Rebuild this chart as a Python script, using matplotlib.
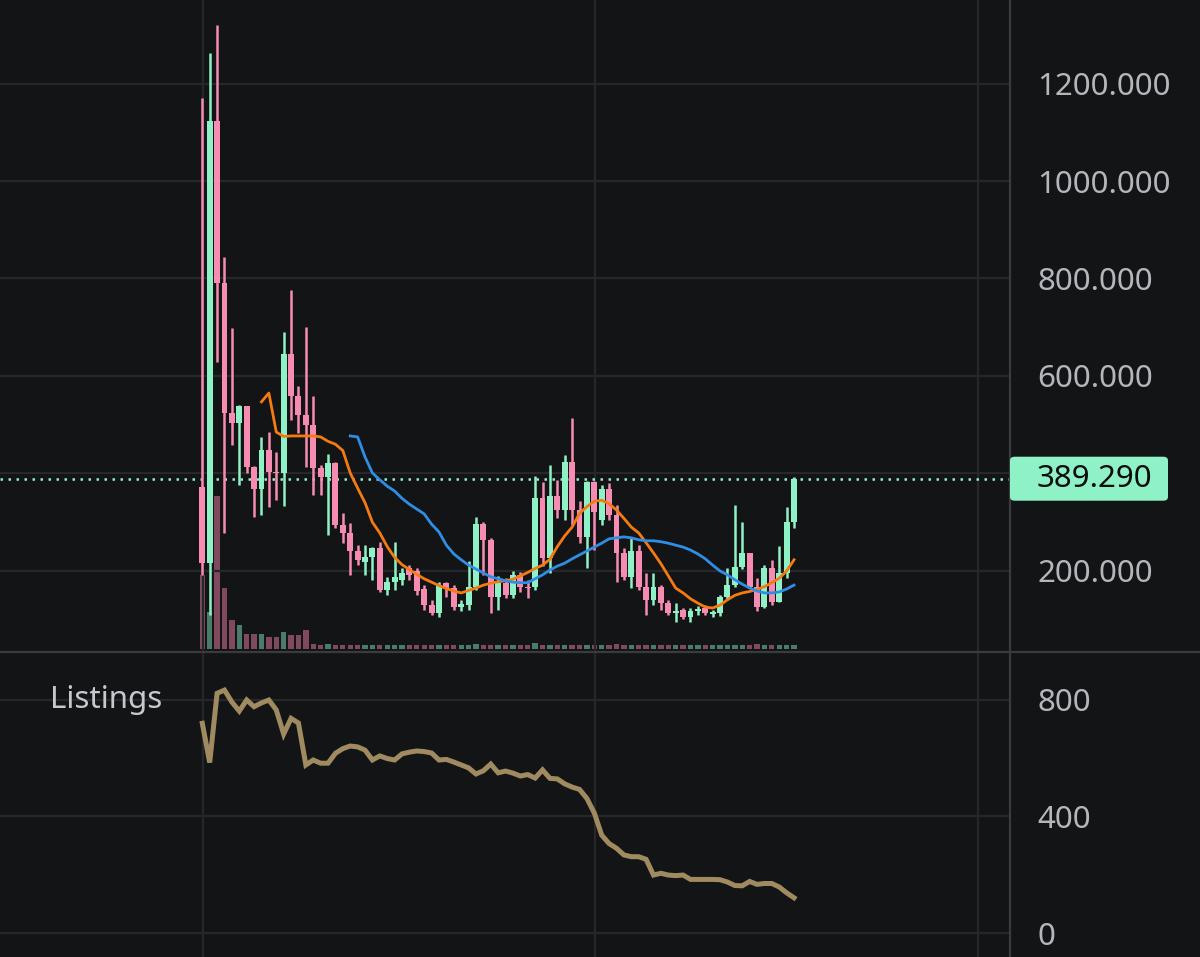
import numpy as np
import matplotlib
matplotlib.use("Agg")
import matplotlib.pyplot as plt
from matplotlib.lines import Line2D
from matplotlib.patches import FancyBboxPatch

plt.rcParams['font.family'] = ['Noto Sans', 'DejaVu Sans']

# daily candles (open, high, low, close)
opens = [373, 216, 1124, 790, 524, 504, 539, 414, 368, 448, 404, 401, 646, 558, 520, 500, 411, 393, 422, 294,
         277, 240, 219, 229, 248, 161, 178, 182, 206, 199, 163, 130, 113, 175, 165, 126, 130, 168, 296, 264,
         147, 176, 151, 192, 168, 168, 349, 226, 354, 325, 424, 325, 270, 383, 305, 368, 315, 236, 188, 240,
         168, 141, 168, 134, 113, 119, 105, 117, 124, 112, 113, 147, 171, 209, 236, 168, 127, 206, 137, 195, 301]
highs = [1170, 1263, 1320, 845, 699, 541, 539, 415, 475, 486, 445, 691, 776, 580, 700, 558, 417, 440, 424, 319,
         299, 253, 253, 250, 259, 188, 260, 206, 212, 206, 171, 141, 178, 178, 171, 141, 221, 311, 300, 268,
         190, 186, 199, 198, 182, 395, 383, 417, 387, 438, 513, 344, 385, 385, 376, 381, 335, 247, 268, 253,
         196, 196, 171, 140, 134, 124, 124, 128, 130, 120, 151, 206, 335, 301, 237, 186, 212, 223, 251, 332, 392]
lows = [192, 110, 629, 278, 459, 376, 400, 311, 315, 331, 346, 333, 510, 483, 414, 356, 356, 274, 288, 257,
        192, 212, 192, 182, 157, 151, 161, 171, 181, 151, 120, 110, 106, 147, 120, 118, 120, 161, 192, 113,
        120, 145, 145, 157, 145, 161, 210, 195, 308, 305, 294, 257, 206, 243, 294, 305, 178, 181, 165, 161,
        110, 130, 120, 110, 96, 101, 96, 110, 110, 106, 108, 141, 167, 204, 165, 117, 124, 130, 136, 186, 288]
closes = [216, 1124, 790, 524, 504, 539, 414, 368, 448, 404, 401, 646, 558, 520, 500, 411, 393, 422, 294, 277,
          240, 223, 229, 248, 161, 178, 188, 196, 192, 158, 130, 113, 171, 165, 126, 132, 168, 296, 264, 147,
          176, 151, 192, 168, 165, 349, 226, 354, 325, 424, 325, 270, 383, 322, 368, 315, 236, 188, 240, 168,
          141, 168, 134, 113, 117, 105, 117, 121, 113, 115, 147, 171, 209, 236, 168, 127, 206, 137, 195, 301, 389.29]
volumes = [75, 37, 155, 62, 29, 24, 15, 15, 15, 12, 12, 17, 14, 14, 19,
           5, 4, 5, 4, 4, 4, 4, 4, 4, 4, 4, 4, 4, 4, 4, 4, 4, 4, 4, 4,
           4, 4, 5, 4, 4, 4, 4, 4, 4, 4, 6, 4, 4, 4, 4, 4, 4, 4, 4, 4,
           4, 5, 4, 4, 4, 4, 4, 4, 4, 4, 4, 4, 4, 4, 4, 4, 4, 4, 4, 4,
           5, 4, 4, 4, 4, 4]
ma_fast = [547, 565, 485, 476, 477, 477, 477, 477, 475, 466, 460, 447, 401, 370, 340, 300, 278, 250, 228, 213,
           203, 193, 184, 177, 170, 164, 159, 155, 160, 165, 171, 175, 178, 180, 183, 190, 197, 205, 212, 224,
           250, 272, 290, 318, 332, 343, 345, 338, 325, 308, 290, 278, 258, 237, 215, 190, 165, 155, 143, 134,
           126, 124, 130, 141, 150, 155, 158, 162, 168, 176, 185, 200, 223]
ma_slow = [477, 475, 434, 401, 387, 374, 364, 349, 337, 327, 317, 296, 280, 253, 235, 223, 212, 204, 196, 188,
           184, 180, 177, 176, 176, 184, 192, 202, 210, 216, 225, 233, 241, 249, 257, 266, 268, 270, 268, 264,
           262, 262, 260, 257, 253, 249, 243, 235, 225, 212, 200, 192, 182, 173, 165, 159, 155, 155, 157, 163, 171]
listings = [720, 585, 823, 834, 793, 762, 800, 777, 790, 800, 766, 683, 737, 721, 577, 594, 583, 583, 617, 633,
            642, 639, 628, 594, 608, 599, 594, 615, 621, 625, 623, 618, 594, 596, 587, 577, 567, 546, 557, 580,
            550, 556, 549, 539, 544, 532, 560, 531, 529, 512, 501, 493, 462, 412, 336, 307, 291, 268, 262, 262,
            253, 199, 205, 199, 197, 199, 184, 184, 184, 184, 183, 175, 163, 162, 177, 167, 170, 170, 158, 138, 121]
last_price = 389.29

bg = '#131416'
grid_c = '#26272a'
sep_c = '#3a3b3f'
up_c = '#8ff2c6'
dn_c = '#f78cb2'
up_vol = '#4b7c69'
dn_vol = '#80495d'
txt_c = '#b4b6bc'

n = len(closes)
x = np.arange(n)
o = np.array(opens, float)
h = np.array(highs, float)
l = np.array(lows, float)
c = np.array(closes, float)
up = c >= o

W, H = 1200, 957
fig = plt.figure(figsize=(W / 100, H / 100), dpi=100, facecolor=bg)
price_rect = [0, 1 - 652 / H, 1010 / W, 652 / H]
axv = fig.add_axes(price_rect, zorder=0)
ax = fig.add_axes(price_rect, zorder=1)
ax2 = fig.add_axes([0, 0, 1010 / W, 305 / H])

xlim = (-27.35, 109.2)
for a in (ax, ax2):
    a.set_xlim(*xlim)
    for s in a.spines.values():
        s.set_visible(False)
    a.set_xticks([0.1, 53.1, 104.9])
    a.tick_params(axis='x', length=0, labelbottom=False)
    a.grid(True, color=grid_c, linewidth=1.6)
    a.set_axisbelow(True)
    a.yaxis.tick_right()
    a.tick_params(axis='y', length=0, pad=19.5, labelsize=22.5, labelcolor=txt_c)
ax.patch.set_alpha(0)
ax2.set_facecolor(bg)

# volume underlay
axv.set_facecolor(bg)
axv.set_ylim(0, 660)
axv.set_xlim(*xlim)
axv.set_xticks([])
axv.set_yticks([])
for s in axv.spines.values():
    s.set_visible(False)
axv.bar(x, volumes, width=0.72, color=np.where(up, up_vol, dn_vol), bottom=3)

# candles
ax.set_ylim(33.8, 1371.3)
ax.vlines(x, l, h, color=np.where(up, up_c, dn_c), linewidth=1.8, zorder=3)
body_lo = np.minimum(o, c)
body_h = np.maximum(np.abs(c - o), 3)
ax.bar(x, body_h, bottom=body_lo, width=0.8, color=np.where(up, up_c, dn_c), zorder=4)

ma_f = np.full(n, np.nan)
ma_f[n - len(ma_fast):] = ma_fast
ma_s = np.full(n, np.nan)
ma_s[n - len(ma_slow):] = ma_slow
ax.plot(x, ma_f, color='#f57a10', linewidth=2.0, zorder=5)
ax.plot(x, ma_s, color='#2f8de4', linewidth=2.0, zorder=5)

ax.axhline(last_price, color=up_c, linestyle=(0, (1, 2.2)), linewidth=1.8, zorder=2)

ticks = [200, 400, 600, 800, 1000, 1200]
ax.set_yticks(ticks)
ax.set_yticklabels(['' if t == 400 else f'{t:.3f}' for t in ticks])

# listings pane
ax2.set_ylim(-82.4, 964.8)
ax2.plot(x, listings, color='#a08a60', linewidth=3.6, solid_joinstyle='miter')
ax2.set_yticks([0, 400, 800])
ax2.set_yticklabels(['0', '400', '800'])
ax2.text(50 / 1010, 1 - 48 / 305, 'Listings', transform=ax2.transAxes, fontsize=22.5,
         color='#c6c8ce', va='center', ha='left')

# pane separators
fig.add_artist(Line2D([0, 1], [1 - 652 / H] * 2, color=sep_c, linewidth=1.6))
fig.add_artist(Line2D([1010 / W] * 2, [0, 1], color=sep_c, linewidth=1.6))

# last price label
fig.canvas.draw()
ypix = ax.transData.transform((0, last_price))[1]
yf = ypix / H
box = FancyBboxPatch((1010 / W, yf - 22 / H), 158 / W, 44 / H,
                     boxstyle='round,pad=0,rounding_size=0.004', transform=fig.transFigure,
                     facecolor=up_c, edgecolor='none', zorder=10)
fig.add_artist(box)
fig.text(1037 / W, yf, f'{last_price:.3f}', color='#0b0c0d', fontsize=22.5,
         va='center', ha='left', zorder=11)

fig.savefig('out.png', dpi=100, facecolor=bg)
